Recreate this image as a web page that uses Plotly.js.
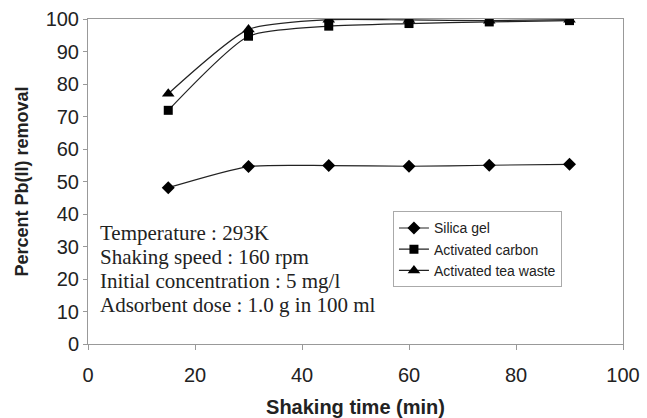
<!DOCTYPE html>
<html>
<head>
<meta charset="utf-8">
<script src="https://cdn.plot.ly/plotly-3.0.1.min.js"></script>
<style>html,body{margin:0;padding:0;background:#fff;}#chart{width:647px;height:418px;}</style>
</head>
<body>
<div id="chart"></div>
<script>
const shakingTime = [15, 30, 45, 60, 75, 90];
const silicaGel = [48.1, 54.6, 54.9, 54.7, 55.0, 55.3];
const activatedCarbon = [71.9, 94.7, 97.8, 98.6, 99.1, 99.5];
const teaWaste = [77.0, 96.8, 99.8, 99.7, 99.5, 99.8];
const seriesNames = ["Silica gel", "Activated carbon", "Activated tea waste"];
const conditions = [
  "Temperature : 293K",
  "Shaking speed : 160 rpm",
  "Initial concentration : 5 mg/l",
  "Adsorbent dose : 1.0 g in 100 ml"
];

const lineStyle = {color: "#222", width: 1.2, shape: "spline", smoothing: 0.6};
const symbols = ["diamond", "square", "triangle-up"];
const sizes = [10, 9, 11];
const values = [silicaGel, activatedCarbon, teaWaste];
const traces = values.map((v, i) => ({
  x: shakingTime, y: v, name: seriesNames[i], mode: "lines+markers",
  legendgroup: "g" + i,
  line: lineStyle, marker: {symbol: symbols[i], size: sizes[i], color: "#000"}
}));

const annotations = conditions.map((t, i) => ({
  xref: "paper", yref: "paper", x: 0.018, y: 0.342 - i * 0.0738,
  xanchor: "left", yanchor: "middle", align: "left", showarrow: false,
  text: t,
  font: {family: "Liberation Serif, Times New Roman", size: 21, color: "#222"}
}));

const layout = {
  width: 647, height: 418,
  margin: {l: 88, r: 24, t: 19, b: 74},
  paper_bgcolor: "#fff", plot_bgcolor: "#fff",
  showlegend: true,
  legend: {x: 0.57, y: 0.408, xanchor: "left", yanchor: "top",
    bgcolor: "#fff", bordercolor: "#aaa", borderwidth: 1,
    font: {family: "Liberation Sans, Arial", size: 14, color: "#222"},
    traceorder: "grouped", tracegroupgap: 0},
  xaxis: {range: [0, 100], dtick: 20, tick0: 0, showgrid: false, zeroline: false,
    showline: true, linecolor: "#999", linewidth: 1, mirror: true,
    ticks: "outside", ticklen: 5, tickcolor: "#999", ticklabelstandoff: 8,
    tickfont: {family: "Liberation Sans, Arial", size: 20, color: "#222"},
    title: {text: "<b>Shaking time (min)</b>", standoff: 14,
      font: {family: "Liberation Sans, Arial", size: 20, color: "#222"}}},
  yaxis: {range: [0, 100], dtick: 10, tick0: 0, showgrid: false, zeroline: false,
    showline: true, linecolor: "#999", linewidth: 1, mirror: true,
    ticks: "outside", ticklen: 4, tickcolor: "#999",
    tickfont: {family: "Liberation Sans, Arial", size: 20, color: "#222"},
    title: {text: "<b>Percent Pb(II) removal</b>", standoff: 12,
      font: {family: "Liberation Sans, Arial", size: 18, color: "#222"}}},
  annotations: annotations
};

Plotly.newPlot("chart", traces, layout, {displayModeBar: false, staticPlot: true});
</script>
</body>
</html>
